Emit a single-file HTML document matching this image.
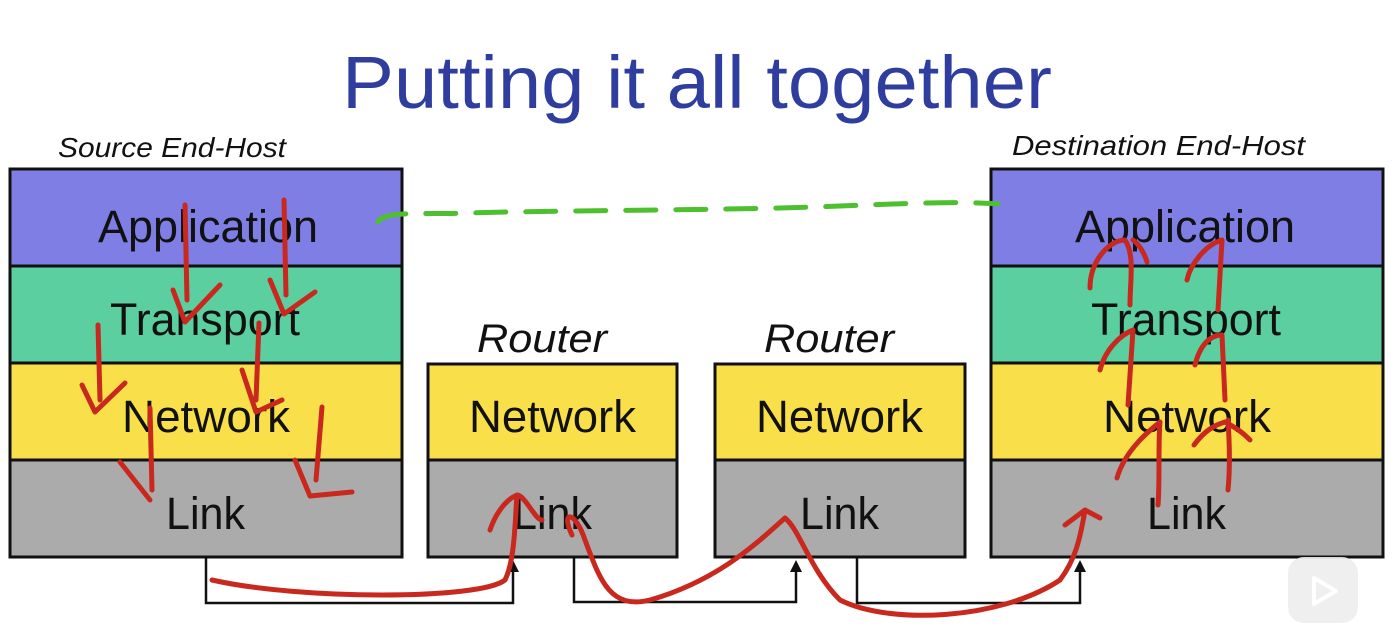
<!DOCTYPE html>
<html><head><style>html,body{margin:0;padding:0;background:#fff}svg{display:block}</style></head>
<body>
<svg width="1395" height="632" viewBox="0 0 1395 632" xmlns="http://www.w3.org/2000/svg" font-family="Liberation Sans, sans-serif">
<text x="697" y="108" text-anchor="middle" font-size="74" fill="#2F3E9E" textLength="710" lengthAdjust="spacingAndGlyphs">Putting it all together</text>
<text x="58" y="157" font-size="28" font-style="italic" fill="#111" textLength="228" lengthAdjust="spacingAndGlyphs">Source End-Host</text>
<text x="1012" y="155" font-size="28" font-style="italic" fill="#111" textLength="293" lengthAdjust="spacingAndGlyphs">Destination End-Host</text>
<text x="477" y="352" font-size="40" font-style="italic" fill="#111" textLength="130" lengthAdjust="spacingAndGlyphs">Router</text>
<text x="764" y="352" font-size="40" font-style="italic" fill="#111" textLength="130" lengthAdjust="spacingAndGlyphs">Router</text>
<g stroke="#111" stroke-width="3">
<rect x="10" y="169" width="392" height="97" fill="#7E7EE5"/>
<rect x="10" y="266" width="392" height="97" fill="#5CCFA0"/>
<rect x="10" y="363" width="392" height="97" fill="#F9E04B"/>
<rect x="10" y="460" width="392" height="97" fill="#ABABAB"/>
<rect x="991" y="169" width="392" height="97" fill="#7E7EE5"/>
<rect x="991" y="266" width="392" height="97" fill="#5CCFA0"/>
<rect x="991" y="363" width="392" height="97" fill="#F9E04B"/>
<rect x="991" y="460" width="392" height="97" fill="#ABABAB"/>
<rect x="428" y="364" width="249" height="96" fill="#F9E04B"/>
<rect x="428" y="460" width="249" height="97" fill="#ABABAB"/>
<rect x="715" y="364" width="250" height="96" fill="#F9E04B"/>
<rect x="715" y="460" width="250" height="97" fill="#ABABAB"/>
</g>
<g font-size="45" fill="#111">
<text x="98" y="242" textLength="220" lengthAdjust="spacingAndGlyphs">Application</text><text x="110" y="335" textLength="190" lengthAdjust="spacingAndGlyphs">Transport</text><text x="122" y="432" textLength="168" lengthAdjust="spacingAndGlyphs">Network</text><text x="166" y="529" textLength="79" lengthAdjust="spacingAndGlyphs">Link</text>
<text x="1075" y="242" textLength="220" lengthAdjust="spacingAndGlyphs">Application</text><text x="1091" y="335" textLength="190" lengthAdjust="spacingAndGlyphs">Transport</text><text x="1103" y="432" textLength="168" lengthAdjust="spacingAndGlyphs">Network</text><text x="1147" y="529" textLength="79" lengthAdjust="spacingAndGlyphs">Link</text>
<text x="469" y="432" textLength="167" lengthAdjust="spacingAndGlyphs">Network</text><text x="513" y="529" textLength="79" lengthAdjust="spacingAndGlyphs">Link</text>
<text x="756" y="432" textLength="167" lengthAdjust="spacingAndGlyphs">Network</text><text x="800" y="529" textLength="79" lengthAdjust="spacingAndGlyphs">Link</text>
</g>
<g fill="none" stroke="#111" stroke-width="2.5">
<path d="M206 557 V603 H513 V564"/><path d="M574 557 V602 H796 V564"/><path d="M857 557 V603 H1080 V564"/>
</g>
<g fill="#111"><path d="M507 572 L513 560 L519 572Z"/><path d="M790 572 L796 560 L802 572Z"/><path d="M1074 572 L1080 560 L1086 572Z"/></g>
<path d="M378 222 C385 210 420 215 470 213 S700 210 780 208 S950 200 998 204" fill="none" stroke="#4EBF2E" stroke-width="5" stroke-dasharray="30 20" stroke-linecap="round"/>
<g fill="none" stroke="#C8281E" stroke-width="5" stroke-linecap="round" stroke-linejoin="round">
<path d="M185 205 L187 300 M173 290 L185 322 L220 285"/>
<path d="M284 200 L286 295 M270 280 L284 314 L315 292"/>
<path d="M98 325 L100 400 M82 385 L95 412 L125 383"/>
<path d="M259 323 L256 400 M242 370 L256 412 L282 400"/>
<path d="M150 408 L152 490 M120 462 L150 500"/>
<path d="M322 407 L316 480 M295 460 L310 496 L352 492"/>
<path d="M212 580 C300 600 480 600 505 580 C515 560 515 520 517 495 C505 500 495 515 490 530 M517 495 C525 495 535 520 542 520"/>
<path d="M572 535 C560 510 575 510 585 540 C600 580 610 610 650 600 C720 580 760 540 785 518 C800 530 810 570 840 600 C890 625 1000 620 1060 580 C1075 560 1080 540 1085 510 L1065 525 M1085 510 L1100 518"/>
<path d="M1117 478 C1125 450 1150 430 1160 422 M1160 422 C1158 445 1160 480 1158 505 M1194 445 C1205 430 1215 425 1225 422 M1225 422 C1240 430 1245 435 1250 440 M1228 420 C1230 450 1230 470 1228 490"/>
<path d="M1100 370 C1105 350 1120 335 1133 330 L1128 405 M1195 365 C1200 345 1210 335 1222 335 L1225 400"/>
<path d="M1090 288 C1090 260 1110 240 1125 240 C1135 255 1130 280 1130 305 M1133 240 C1140 245 1145 255 1147 262 M1187 280 C1190 265 1205 245 1222 240 L1218 310"/>
</g>
<rect x="1288" y="557" width="70" height="66" rx="16" fill="#EDEDED" opacity="0.9"/>
<path d="M1314 578 L1314 604 L1336 591Z" fill="none" stroke="#fff" stroke-width="4" stroke-linejoin="round"/>
</svg>
</body></html>
